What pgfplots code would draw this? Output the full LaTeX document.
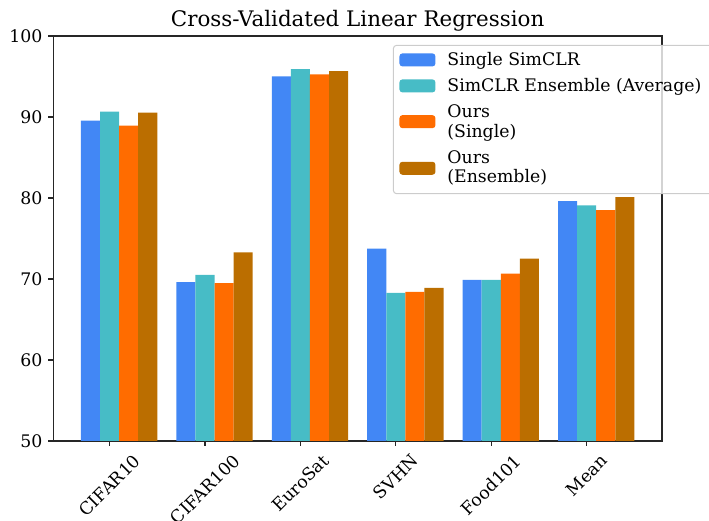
\documentclass[border=0pt]{standalone}
\usepackage{pgfplots}
\pgfplotsset{compat=1.18}
\usepackage{graphicx}
\usepackage{fontspec}
\setmainfont{DejaVu Serif}
\definecolor{cA}{RGB}{66,135,245}
\definecolor{cB}{RGB}{71,188,198}
\definecolor{cC}{RGB}{255,108,0}
\definecolor{cD}{RGB}{187,110,0}
\newcommand\fs{\fontsize{17.3}{20.8}\selectfont}
\newcommand\lfs{\fontsize{17.3}{19.5}\selectfont}
\newcommand\tp{\rule{0pt}{18.7pt}}
\newcommand\bt{\rule[-7.3pt]{0pt}{7.3pt}}
\newcommand\btt{\rule[-9.5pt]{0pt}{9.5pt}}
\pgfplotsset{
  mybar/.style={ybar, bar width=0.2, draw=none, fill=#1,
    legend image code/.code={\fill[#1, fill opacity=1] (-2pt,-6.5pt) rectangle (34pt,6.5pt);}},
}
\begin{document}
\begin{tikzpicture}
\path[use as bounding box] (-53.3pt,-80pt) rectangle (655.7pt,441pt);
\begin{axis}[
  at={(0pt,0pt)}, anchor=south west,
  scale only axis, width=608.7pt, height=405pt,
  xmin=-0.59, xmax=5.79, ymin=50, ymax=100,
  ytick={50,60,...,100},
  xtick={0,1,2,3,4,5},
  xticklabels={\rotatebox{45}{CIFAR10},\rotatebox{45}{CIFAR100},\rotatebox{45}{EuroSat},\rotatebox{45}{SVHN},\rotatebox{45}{Food101},\rotatebox{45}{Mean}},
  /pgf/number format/assume math mode=true,
  ticklabel style={font=\fs},
  xticklabel style={anchor=north, inner sep=0pt, yshift=-7pt},
  yticklabel style={anchor=east, inner sep=0pt, xshift=-5.6pt},
  tick align=outside, major tick length=5pt,
  xtick pos=bottom, ytick pos=left,
  tick style={black!85, line width=1.1pt},
  axis line style={black!85, line width=1.1pt},
  title={Cross-Validated Linear Regression},
  every axis title/.style={font=\fontsize{21.4}{25}\selectfont, at={(0.5,1)}, anchor=base, yshift=9.3pt, inner sep=0pt},
  legend cell align=left,
  legend style={at={(0.558,0.978)}, anchor=north west, draw=black!20, line width=1pt,
    rounded corners=3pt, fill=white, fill opacity=0.8, text opacity=1,
    inner xsep=6pt, inner ysep=1.5pt, column sep=12pt, row sep=0pt,
    nodes={inner xsep=0pt, inner ysep=0pt, text depth=, align=left, font=\lfs}},
]
\addplot[mybar=cA, bar shift=-0.2] coordinates {(0,89.55) (1,69.6) (2,95.0) (3,73.76) (4,69.9) (5,79.6)};
\addplot[mybar=cB, bar shift=0] coordinates {(0,90.67) (1,70.5) (2,95.9) (3,68.3) (4,69.9) (5,79.1)};
\addplot[mybar=cC, bar shift=0.2] coordinates {(0,88.93) (1,69.5) (2,95.27) (3,68.4) (4,70.65) (5,78.5)};
\addplot[mybar=cD, bar shift=0.4] coordinates {(0,90.55) (1,73.3) (2,95.65) (3,68.9) (4,72.5) (5,80.1)};
\legend{{\tp\bt Single SimCLR},{\tp\bt SimCLR Ensemble (Average)\hspace*{16pt}},{\tp Ours\\(Single)\bt},{\tp Ours\\(Ensemble)\btt}}
\end{axis}
\end{tikzpicture}
\end{document}
